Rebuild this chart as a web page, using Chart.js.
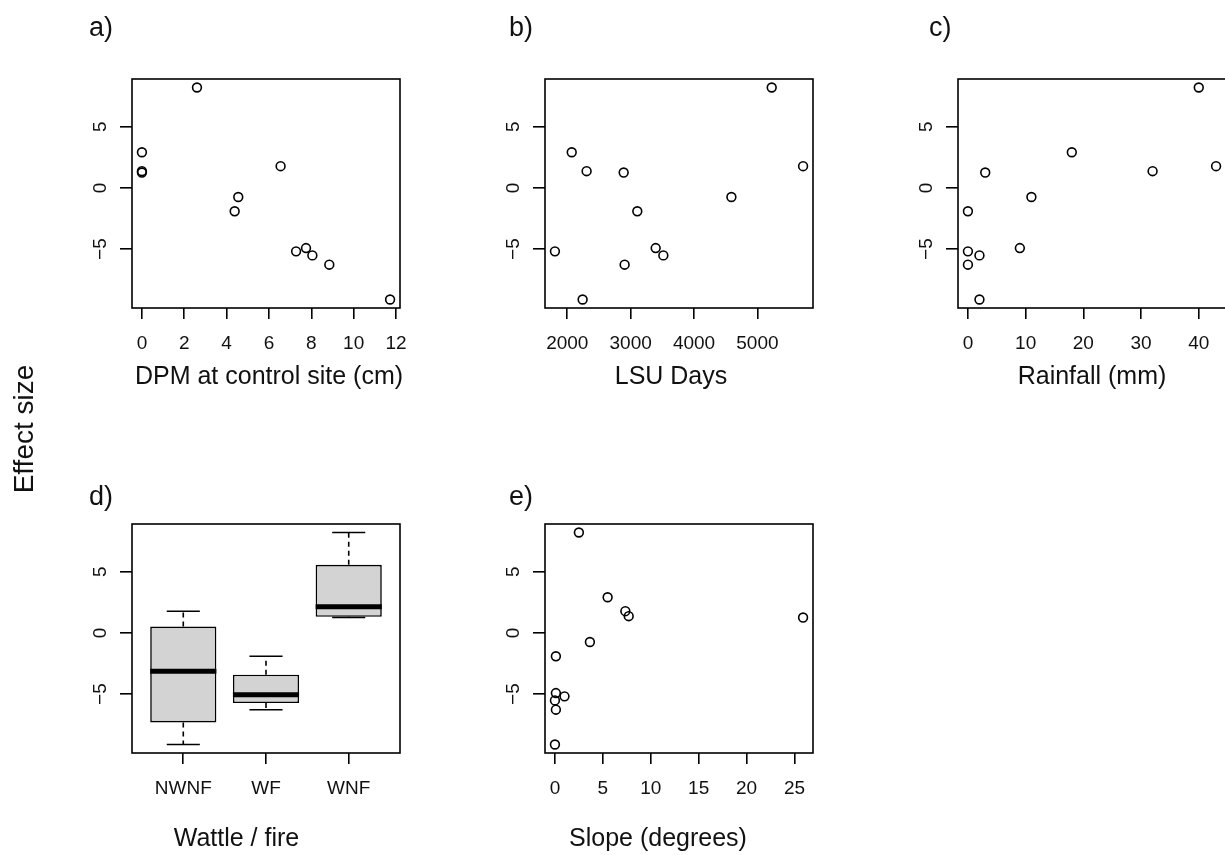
<!DOCTYPE html>
<html><head><meta charset="utf-8">
<script src="https://cdn.jsdelivr.net/npm/chart.js@4.4.0/dist/chart.umd.min.js"></script>
<style>
html,body{margin:0;padding:0;background:#fff;width:1225px;height:855px;overflow:hidden;position:relative;}
canvas{position:absolute;}
</style></head><body>
<canvas id="pa"></canvas>
<canvas id="pb"></canvas>
<canvas id="pc"></canvas>
<canvas id="pd"></canvas>
<canvas id="pe"></canvas>
<script>
// ---------------- data ----------------
const siteEffect = [8.22, 2.92, 1.78, 1.37, 1.26, -0.74, -1.91, -4.92, -5.19, -5.52, -6.28, -9.13];
const dpmControl = [2.6, 0, 6.55, 0, 0, 4.55, 4.38, 7.75, 7.28, 8.05, 8.85, 11.72];
const lsuDays    = [5226, 2070, 5721, 2305, 2890, 4590, 3105, 3395, 1805, 3516, 2905, 2242];
const rainfall   = [40, 18, 43, 32, 3, 11, 0, 9, 0, 2, 0, 2];
const slope      = [2.5, 5.5, 7.35, 7.7, 25.9, 3.65, 0.1, 0.1, 1.0, 0, 0.1, 0];
const wattleFire = ['WNF','WNF','NWNF','WNF','WNF','NWNF','WF','WF','WF','NWNF','WF','NWNF'];
const groupNames = ['NWNF', 'WF', 'WNF'];

const yTicks  = [-5, 0, 5];
const xTicksA = [0, 2, 4, 6, 8, 10, 12];
const xTicksB = [2000, 3000, 4000, 5000];
const xTicksC = [0, 10, 20, 30, 40];
const xTicksE = [0, 5, 10, 15, 20, 25];

const xTitles = ['DPM at control site (cm)', 'LSU Days', 'Rainfall (mm)', 'Wattle / fire', 'Slope (degrees)'];
const panelLetters = ['a)', 'b)', 'c)', 'd)', 'e)'];
const yTitle = 'Effect size';

// ---------------- style ----------------
const FAMILY = '"Liberation Sans", Arial, Helvetica, sans-serif';
const TEXT = '#111';
const LW = 1.6;
const TICK_SIZE = 19, TITLE_SIZE = 25, PANEL_SIZE = 27, YTITLE_SIZE = 28;

function rLimits(vals) {
  const lo = Math.min(...vals), hi = Math.max(...vals), p = (hi - lo) * 0.04;
  return [lo - p, hi + p];
}
function fmtTick(v) { return v < 0 ? '\u2212' + Math.abs(v) : String(v); }
function fivenum(v) {
  const x = [...v].sort((a, b) => a - b), n = x.length;
  const n4 = Math.floor((n + 3) / 2) / 2;
  const d = [1, n4, (n + 1) / 2, n + 1 - n4, n];
  return d.map(i => 0.5 * (x[Math.floor(i) - 1] + x[Math.ceil(i) - 1]));
}
function boxStats(v) {
  const [mn, q1, med, q3, mx] = fivenum(v);
  const iqr = q3 - q1;
  const inside = v.filter(e => e >= q1 - 1.5 * iqr && e <= q3 + 1.5 * iqr);
  return { lo: Math.min(...inside), q1, med, q3, hi: Math.max(...inside) };
}

const [yMin, yMax] = rLimits(siteEffect);

const rStyle = {
  id: 'rStyle',
  afterDraw(chart, args, o) {
    const ctx = chart.ctx, a = chart.chartArea;
    ctx.save();
    ctx.strokeStyle = '#000'; ctx.lineWidth = LW;
    ctx.strokeRect(a.left, a.top, a.right - a.left, a.bottom - a.top);
    ctx.fillStyle = TEXT;
    ctx.font = TICK_SIZE + 'px ' + FAMILY;
    ctx.textAlign = 'center'; ctx.textBaseline = 'alphabetic';
    const ys = chart.scales.y;
    ys.ticks.forEach(t => {
      const p = ys.getPixelForValue(t.value);
      ctx.save(); ctx.translate(a.left - 26, p); ctx.rotate(-Math.PI / 2);
      ctx.fillText(fmtTick(t.value), 0, 0); ctx.restore();
    });
    ctx.font = TITLE_SIZE + 'px ' + FAMILY;
    ctx.fillText(o.xTitle, (a.left + a.right) / 2 + o.titleDx, a.bottom + o.titleDy);
    ctx.font = PANEL_SIZE + 'px ' + FAMILY;
    ctx.textAlign = 'left';
    ctx.fillText(o.panel, o.panelX - o.cx, o.panelY - o.cy);
    if (o.yTitle) {
      ctx.font = YTITLE_SIZE + 'px ' + FAMILY;
      ctx.textAlign = 'center';
      ctx.save(); ctx.translate(33 - o.cx, 429 - o.cy); ctx.rotate(-Math.PI / 2);
      ctx.fillText(o.yTitle, 0, 0); ctx.restore();
    }
    ctx.restore();
  }
};

const rBox = {
  id: 'rBox',
  beforeDatasetsDraw(chart, args, o) {
    const ctx = chart.ctx, ys = chart.scales.y, meta = chart.getDatasetMeta(0);
    ctx.save(); ctx.strokeStyle = '#000'; ctx.lineWidth = LW;
    o.stats.forEach((s, i) => {
      const bar = meta.data[i], cx = bar.x, hw = bar.width / 4;
      ctx.setLineDash([5, 4]);
      ctx.beginPath();
      ctx.moveTo(cx, ys.getPixelForValue(s.q3)); ctx.lineTo(cx, ys.getPixelForValue(s.hi));
      ctx.moveTo(cx, ys.getPixelForValue(s.q1)); ctx.lineTo(cx, ys.getPixelForValue(s.lo));
      ctx.stroke();
      ctx.setLineDash([]);
      ctx.beginPath();
      ctx.moveTo(cx - hw, ys.getPixelForValue(s.hi)); ctx.lineTo(cx + hw, ys.getPixelForValue(s.hi));
      ctx.moveTo(cx - hw, ys.getPixelForValue(s.lo)); ctx.lineTo(cx + hw, ys.getPixelForValue(s.lo));
      ctx.stroke();
    });
    ctx.restore();
  },
  afterDatasetsDraw(chart, args, o) {
    const ctx = chart.ctx, ys = chart.scales.y, meta = chart.getDatasetMeta(0);
    ctx.save(); ctx.strokeStyle = '#000'; ctx.lineWidth = 5; ctx.lineCap = 'butt';
    o.stats.forEach((s, i) => {
      const bar = meta.data[i], hw = bar.width / 2, p = ys.getPixelForValue(s.med);
      ctx.beginPath(); ctx.moveTo(bar.x - hw, p); ctx.lineTo(bar.x + hw, p); ctx.stroke();
    });
    ctx.restore();
  }
};

function setupCanvas(id, c) {
  const el = document.getElementById(id);
  el.width = c.w; el.height = c.h;
  el.style.left = c.left + 'px'; el.style.top = c.top + 'px';
  return el;
}

function scales(c, f, xMin, xMax, xTicks, xLabel) {
  return {
    x: {
      type: 'linear', min: xMin, max: xMax, offset: false,
      afterBuildTicks: s => { s.ticks = xTicks.map(v => ({ value: v })); },
      afterFit: s => { s.height = c.top + c.h - f.B; },
      grid: { offset: false, drawOnChartArea: false, drawTicks: true, tickLength: 11, color: '#000', lineWidth: LW },
      border: { display: false },
      ticks: { font: { family: FAMILY, size: TICK_SIZE }, color: TEXT, padding: 13,
               maxRotation: 0, minRotation: 0, autoSkip: false, callback: xLabel }
    },
    y: {
      type: 'linear', min: yMin, max: yMax,
      afterBuildTicks: s => { s.ticks = yTicks.map(v => ({ value: v })); },
      afterFit: s => { s.width = f.L - c.left; },
      grid: { drawOnChartArea: false, drawTicks: true, tickLength: 12, color: '#000', lineWidth: LW },
      border: { display: false },
      ticks: { display: false }
    }
  };
}

function pluginOpts(i, c, extra) {
  const row = i < 3 ? 0 : 1, col = i < 3 ? i : i - 3;
  return Object.assign({
    xTitle: xTitles[i], panel: panelLetters[i],
    panelX: 89 + 420 * col, panelY: row === 0 ? 36 : 505,
    cx: c.left, cy: c.top,
    titleDx: [3, -8, 0, -29.5, -21][i], titleDy: row === 0 ? 75.5 : 93
  }, extra || {});
}

function scatterPanel(id, i, c, f, xs, xTicks, extra) {
  const [xMin, xMax] = rLimits(xs);
  new Chart(setupCanvas(id, c), {
    type: 'scatter',
    data: { datasets: [{
      data: xs.map((v, k) => ({ x: v, y: siteEffect[k] })),
      pointRadius: 4.4, pointHoverRadius: 4.4, borderWidth: LW,
      borderColor: '#000', backgroundColor: 'rgba(0,0,0,0)', pointStyle: 'circle'
    }] },
    options: {
      responsive: false, animation: false, events: [],
      layout: { padding: { left: 0, top: f.T - c.top, right: c.left + c.w - f.R, bottom: 0 } },
      scales: scales(c, f, xMin, xMax, xTicks, v => String(v)),
      plugins: { legend: { display: false }, tooltip: { enabled: false },
                 rStyle: pluginOpts(i, c, extra) }
    },
    plugins: [rStyle]
  });
}

const cA = { left: 0, top: 0, w: 430, h: 520 },   fA = { L: 132, T: 79, R: 400, B: 308 };
const cB = { left: 430, top: 0, w: 420, h: 430 }, fB = { L: 545, T: 79, R: 813, B: 308 };
const cC = { left: 850, top: 0, w: 410, h: 430 }, fC = { L: 958, T: 79, R: 1226, B: 308 };
const cD = { left: 0, top: 440, w: 430, h: 415 }, fD = { L: 132, T: 524, R: 400, B: 753 };
const cE = { left: 430, top: 440, w: 420, h: 415 }, fE = { L: 545, T: 524, R: 813, B: 753 };

scatterPanel('pa', 0, cA, fA, dpmControl, xTicksA, { yTitle: yTitle });
scatterPanel('pb', 1, cB, fB, lsuDays, xTicksB);
scatterPanel('pc', 2, cC, fC, rainfall, xTicksC);

// box plot panel d
const stats = groupNames.map(g => boxStats(siteEffect.filter((v, k) => wattleFire[k] === g)));
const [dMin, dMax] = rLimits([0.5, groupNames.length + 0.5]);
new Chart(setupCanvas('pd', cD), {
  type: 'bar',
  data: { datasets: [{
    data: stats.map((s, k) => ({ x: k + 1, y: [s.q1, s.q3] })),
    backgroundColor: '#d3d3d3', borderColor: '#000', borderWidth: LW, borderSkipped: false,
    barPercentage: 0.8, categoryPercentage: 1.0
  }] },
  options: {
    responsive: false, animation: false, events: [],
    layout: { padding: { left: 0, top: fD.T - cD.top, right: cD.left + cD.w - fD.R, bottom: 0 } },
    scales: scales(cD, fD, dMin, dMax, groupNames.map((g, k) => k + 1), v => groupNames[v - 1]),
    plugins: { legend: { display: false }, tooltip: { enabled: false },
               rStyle: pluginOpts(3, cD), rBox: { stats: stats } }
  },
  plugins: [rStyle, rBox]
});

scatterPanel('pe', 4, cE, fE, slope, xTicksE);
</script>
</body></html>
